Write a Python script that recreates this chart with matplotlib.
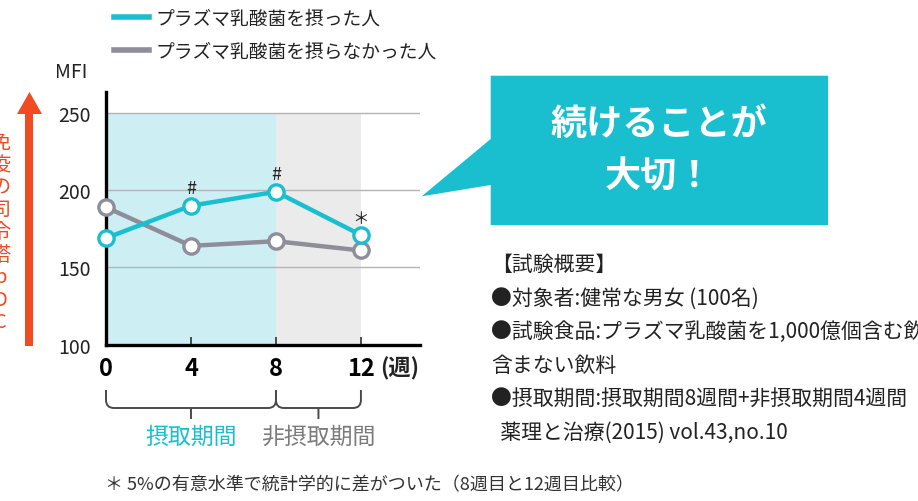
import matplotlib
matplotlib.use('Agg')
import matplotlib.pyplot as plt
import matplotlib.transforms as mtransforms
from matplotlib.lines import Line2D
from matplotlib.patches import Polygon, PathPatch
from matplotlib.path import Path

plt.rcParams['font.family'] = ['Noto Sans CJK JP', 'DejaVu Sans']

# データ
weeks = [0, 4, 8, 12]
taken = [169, 190, 199, 171]        # プラズマ乳酸菌を摂った人
not_taken = [189, 164, 167, 161]    # 摂らなかった人
sig_marks = ['', '#', '#', '＊']
series_labels = ['プラズマ乳酸菌を摂った人', 'プラズマ乳酸菌を摂らなかった人']
y_ticks = [100, 150, 200, 250]
grid_levels = [150, 200, 250]
period_edges = [0, 8, 12]
period_names = ['摂取期間', '非摂取期間']
y_label_chars = list('免疫の司令塔pDC')
callout_lines = ['続けることが', '大切！']
info_lines = ['【試験概要】',
              '●対象者:健常な男女 (100名)',
              '●試験食品:プラズマ乳酸菌を1,000億個含む飲料と',
              '含まない飲料',
              '●摂取期間:摂取期間8週間+非摂取期間4週間',
              '  薬理と治療(2015) vol.43,no.10']
footnote = '＊ 5%の有意水準で統計学的に差がついた（8週目と12週目比較）'

CYAN = '#19bfcf'
CYAN_BG = '#cdeff4'
GRAY = '#8e8d9a'
GRAY_BG = '#ebebeb'
RED = '#f04b22'
TXT = '#222222'

W, H = 918, 502
def fx(px): return px / W
def fy(py): return 1 - py / H

fig = plt.figure(figsize=(W / 100, H / 100), dpi=100)
ax = fig.add_axes([fx(106), fy(345.7), (420 - 106) / W, (345.7 - 93) / H])
ax.set_xlim(0, 14.78)
ax.set_ylim(100, 263.6)

# 背景の期間
ax.fill_between(period_edges[0:2], 100, 250, color=CYAN_BG, lw=0, zorder=0)
ax.fill_between(period_edges[1:3], 100, 250, color=GRAY_BG, lw=0, zorder=0)
for g in grid_levels:
    ax.axhline(g, color='#b4b4b4', lw=1, zorder=1)

ax.plot(weeks, not_taken, color=GRAY, lw=3.2, marker='o', ms=11, mfc='white',
        mec=GRAY, mew=2.4, clip_on=False, zorder=4)
ax.plot(weeks, taken, color=CYAN, lw=3.2, marker='o', ms=11, mfc='white',
        mec=CYAN, mew=2.4, clip_on=False, zorder=5)
for x, y, m in zip(weeks, taken, sig_marks):
    if m:
        ax.annotate(m, (x, y), xytext=(0, 13 if m == '#' else 12),
                    textcoords='offset points', ha='center', va='center',
                    fontsize=13 if m == '#' else 12, color=TXT)

for s in ['top', 'right']:
    ax.spines[s].set_visible(False)
for s in ['left', 'bottom']:
    ax.spines[s].set_linewidth(2.4)
    ax.spines[s].set_color('black')

ax.set_yticks(y_ticks)
ax.tick_params(axis='y', length=0, pad=11, labelsize=14, labelcolor=TXT)
ax.set_xticks(weeks)
ax.set_xticklabels([str(w) for w in weeks], fontsize=17, fontweight='bold')
ax.tick_params(axis='x', direction='in', length=6, width=1.2, pad=8, color='#333333')
ax.annotate('(週)', (12, 100), xytext=(14, -16.5), textcoords='offset points',
            ha='left', va='center', fontsize=16, fontweight='bold', color=TXT,
            annotation_clip=False)

# 期間の括弧
bt = mtransforms.blended_transform_factory(ax.transData, fig.transFigure)
top, bot, stem = fy(391), fy(409), fy(420)
r = fy(401) - fy(409)
rx = 8 / 21.25
for a, b, name, col in zip(period_edges[:-1], period_edges[1:], period_names, [CYAN, '#7b7b7b']):
    m = (a + b) / 2
    verts = [(a, top), (a, bot + r), (a, bot), (a + rx, bot), (b - rx, bot),
             (b, bot), (b, bot + r), (b, top), (m, bot), (m, stem)]
    codes = [Path.MOVETO, Path.LINETO, Path.CURVE3, Path.CURVE3, Path.LINETO,
             Path.CURVE3, Path.CURVE3, Path.LINETO, Path.MOVETO, Path.LINETO]
    fig.add_artist(PathPatch(Path(verts, codes), transform=bt, fill=False,
                             ec='#4a4a4a', lw=1.4))
    fig.text(m, fy(437), name, transform=bt, ha='center', va='center',
             fontsize=16.5, color=col)

# 凡例
fig.legend([Line2D([], [], color=CYAN, lw=4), Line2D([], [], color=GRAY, lw=4)],
           series_labels, loc='upper left', bbox_to_anchor=(fx(114), fy(9)),
           frameon=False, fontsize=13.5, handlelength=1.85, handletextpad=0.35,
           labelspacing=0.62, borderpad=0, borderaxespad=0, labelcolor=TXT)

fig.text(fx(71), fy(72), 'MFI', ha='center', va='center', fontsize=14, color=TXT)

# 左の矢印と縦書きラベル
arrow = [(25, 347), (33, 347), (33, 115), (42, 115), (29.5, 93), (17, 115), (25, 115)]
fig.add_artist(Polygon([(fx(px), fy(py)) for px, py in arrow], closed=True,
                       color=RED, lw=0))
for i, ch in enumerate(y_label_chars):
    fig.text(fx(0.5), fy(143 + 22.5 * i), ch, ha='center', va='center',
             fontsize=14.5, color=RED)

# 吹き出し
bubble = [(490.7, 76.7), (828, 76.7), (828, 226), (490.7, 226), (490.7, 186),
          (421.7, 197.3), (490.7, 140)]
fig.add_artist(Polygon([(fx(px), fy(py)) for px, py in bubble], closed=True,
                       color=CYAN, lw=0))
for i, line in enumerate(callout_lines):
    fig.text(fx(659), fy(124 + 53 * i), line, ha='center', va='center',
             fontsize=26, fontweight='bold', color='white')

# 試験概要
for i, line in enumerate(info_lines):
    fig.text(fx(491), fy(265 + 33.6 * i), line, ha='left', va='center',
             fontsize=15, color=TXT)

fig.text(fx(105), fy(485), footnote, ha='left', va='center', fontsize=13, color='#333333')

fig.savefig('out.png', dpi=100)
